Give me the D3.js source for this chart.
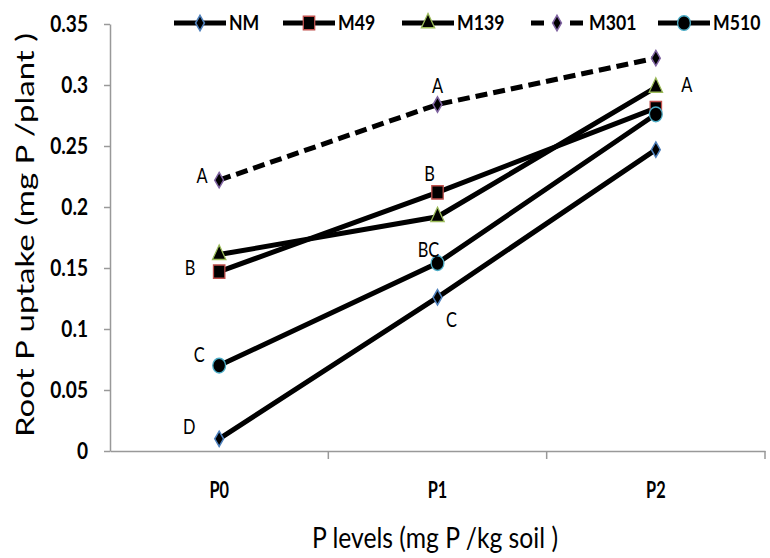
<!DOCTYPE html>
<html>
<head>
<meta charset="utf-8">
<script src="https://cdn.jsdelivr.net/npm/d3@7"></script>
<style>
  body { margin: 0; background: #fff; }
  svg { display: block; }
  text { font-family: Lato, 'Open Sans', sans-serif; }
</style>
</head>
<body>
<div id="chart"></div>
<script>
const width = 770;
const height = 558;
const margin = { top: 24, right: 5, bottom: 107, left: 110 };

// data
const levels = ["P0", "P1", "P2"];
const seriesNames = ["NM", "M49", "M139", "M301", "M510"];
const nm = [0.010, 0.126, 0.247];
const m49 = [0.147, 0.212, 0.281];
const m139 = [0.161, 0.192, 0.298];
const m301 = [0.222, 0.284, 0.322];
const m510 = [0.070, 0.154, 0.276];
const yTicks = [0, 0.05, 0.1, 0.15, 0.2, 0.25, 0.3, 0.35];
// significance letters: [series, level index, letter]
const letters = [
  ["M301", 0, "A"], ["M49", 0, "B"], ["M510", 0, "C"], ["NM", 0, "D"],
  ["M301", 1, "A"], ["M49", 1, "B"], ["M510", 1, "BC"], ["NM", 1, "C"],
  ["M139", 2, "A"]
];

const values = { NM: nm, M49: m49, M139: m139, M301: m301, M510: m510 };
const styles = {
  NM:   { shape: d3.symbolDiamond, stroke: "#4f81bd", dash: null, size: 68, sx: 1 },
  M49:  { shape: d3.symbolSquare, stroke: "#c0504d", dash: null, size: 180, sx: 0.85 },
  M139: { shape: d3.symbolTriangle, stroke: "#9bbb59", dash: null, size: 120, sx: 0.8 },
  M301: { shape: d3.symbolDiamond, stroke: "#8064a2", dash: "12,6", size: 68, sx: 1 },
  M510: { shape: d3.symbolCircle, stroke: "#4bacc6", dash: null, size: 170, sx: 0.87 }
};
// label offsets relative to the point (dx, baseline dy)
const letterOffset = {
  "M301-0": [-17, 3], "M49-0": [-29, 3], "M510-0": [-20, -4], "NM-0": [-30, -5],
  "M301-1": [0, -12], "M49-1": [-8, -11], "M510-1": [-9, -6], "NM-1": [14, 30],
  "M139-2": [31, 5]
};

// squeeze text horizontally, like the narrow look of the source
function squeeze(sel, k) {
  sel.each(function () {
    const w = this.getComputedTextLength();
    d3.select(this).attr("textLength", w * k).attr("lengthAdjust", "spacingAndGlyphs");
  });
}

const svg = d3.select("#chart").append("svg")
  .attr("width", width)
  .attr("height", height);

const x = d3.scaleBand()
  .domain(levels)
  .range([margin.left, width - margin.right]);

const y = d3.scaleLinear()
  .domain([0, 0.35])
  .range([height - margin.bottom, margin.top]);

const cx = d => x(d) + x.bandwidth() / 2;
const axisGrey = "#999";

// X axis
const xAxis = svg.append("g")
  .attr("transform", `translate(0,${height - margin.bottom})`)
  .call(d3.axisBottom(x).tickSize(0).tickPadding(31));
xAxis.select(".domain").attr("stroke", axisGrey).attr("stroke-width", 1.5);
xAxis.selectAll("text")
  .attr("font-family", "Lato, sans-serif")
  .attr("font-weight", "bold")
  .attr("font-size", "22px")
  .attr("fill", "#000")
  .call(squeeze, 0.74);
xAxis.selectAll("line.sep")
  .data(levels)
  .join("line")
  .attr("class", "sep")
  .attr("x1", d => x(d) + x.bandwidth())
  .attr("x2", d => x(d) + x.bandwidth())
  .attr("y1", 0)
  .attr("y2", 8)
  .attr("stroke", axisGrey)
  .attr("stroke-width", 1.5);

// Y axis
const yAxis = svg.append("g")
  .attr("transform", `translate(${margin.left},0)`)
  .call(d3.axisLeft(y).tickValues(yTicks).tickSize(6).tickPadding(16)
    .tickSizeOuter(0).tickFormat(d => String(+d.toFixed(2))));
yAxis.select(".domain").attr("stroke", axisGrey).attr("stroke-width", 1.5);
yAxis.selectAll(".tick line").attr("stroke", axisGrey).attr("stroke-width", 1.5);
yAxis.selectAll("text")
  .attr("font-family", "Lato, sans-serif")
  .attr("font-weight", "bold")
  .attr("font-size", "23px")
  .attr("fill", "#000")
  .call(squeeze, 0.83);

// Lines
const line = d3.line()
  .x((d, i) => cx(levels[i]))
  .y(d => y(d));

seriesNames.forEach(name => {
  const s = styles[name];
  svg.append("path")
    .datum(values[name])
    .attr("d", line)
    .attr("fill", "none")
    .attr("stroke", "#000")
    .attr("stroke-width", 5)
    .attr("stroke-dasharray", s.dash);
});

// Markers
seriesNames.forEach(name => {
  const s = styles[name];
  svg.append("g")
    .selectAll("path")
    .data(values[name])
    .join("path")
    .attr("transform", (d, i) => `translate(${cx(levels[i])},${y(d)}) scale(${s.sx},1)`)
    .attr("d", d3.symbol().type(s.shape).size(s.size))
    .attr("fill", "#000")
    .attr("stroke", s.stroke)
    .attr("stroke-width", 1.5);
});

// Letters
svg.append("g")
  .selectAll("text")
  .data(letters)
  .join("text")
  .attr("x", d => cx(levels[d[1]]) + letterOffset[d[0] + "-" + d[1]][0])
  .attr("y", d => y(values[d[0]][d[1]]) + letterOffset[d[0] + "-" + d[1]][1])
  .attr("text-anchor", "middle")
  .attr("font-size", "21px")
  .attr("fill", "#000")
  .text(d => d[2])
  .call(squeeze, 0.78);

// Legend
const legendX = [174, 283, 402, 531, 658];
const legend = svg.append("g");
seriesNames.forEach((name, i) => {
  const s = styles[name];
  const g = legend.append("g").attr("transform", `translate(${legendX[i]},23)`);
  g.append("line")
    .attr("x1", 0).attr("x2", 52)
    .attr("stroke", "#000")
    .attr("stroke-width", 5)
    .attr("stroke-dasharray", s.dash ? "13,26,13" : null);
  g.append("path")
    .attr("transform", `translate(26,0) scale(${s.sx},1)`)
    .attr("d", d3.symbol().type(s.shape).size(s.size))
    .attr("fill", "#000")
    .attr("stroke", s.stroke)
    .attr("stroke-width", 1.5);
  g.append("text")
    .attr("x", s.dash ? 58 : 55)
    .attr("y", 7)
    .attr("font-weight", "bold")
    .attr("font-size", "21px")
    .attr("fill", "#000")
    .text(name)
    .call(squeeze, 0.84);
});

// Axis titles
svg.append("text")
  .attr("x", 312)
  .attr("y", 548)
  .attr("font-size", "28px")
  .attr("fill", "#000")
  .attr("textLength", 246)
  .attr("lengthAdjust", "spacingAndGlyphs")
  .text("P levels (mg P /kg soil )");

svg.append("text")
  .attr("transform", "translate(34,235) rotate(-90)")
  .attr("text-anchor", "middle")
  .attr("font-size", "25px")
  .attr("fill", "#000")
  .attr("textLength", 404)
  .attr("lengthAdjust", "spacingAndGlyphs")
  .text("Root P uptake (mg P /plant )");
</script>
</body>
</html>
